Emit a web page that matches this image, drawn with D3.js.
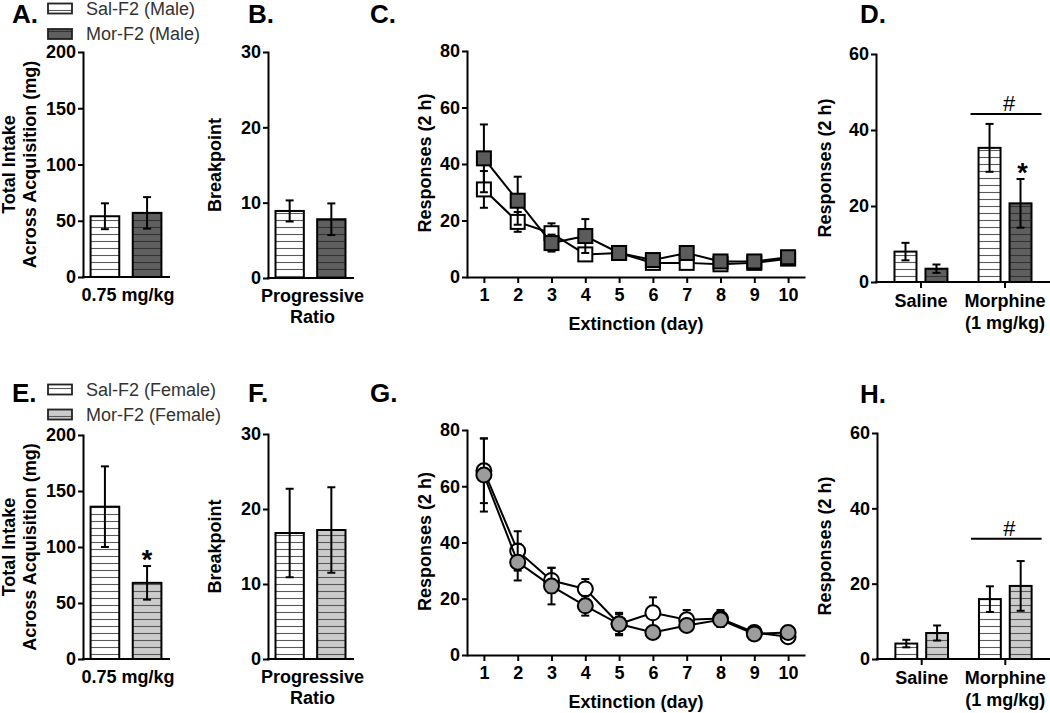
<!DOCTYPE html>
<html><head><meta charset="utf-8">
<script src="https://cdn.jsdelivr.net/npm/d3@7"></script>
<style>body{margin:0;background:#fff}svg{display:block}text{font-family:"Liberation Sans",Arial,sans-serif}</style>
</head><body><svg id="c" width="1050" height="713"></svg>
<script>
// ---------- DATA ----------
const barGroups = ["Sal-F2", "Mor-F2"];
const legendMale = ["Sal-F2 (Male)", "Mor-F2 (Male)"];
const legendFemale = ["Sal-F2 (Female)", "Mor-F2 (Female)"];

const acqTicks = [0, 50, 100, 150, 200];
const acqLabel = ["0.75 mg/kg"];
const acqMale = [54, 57];
const acqMaleErr = [11.5, 14];
const acqFemale = [136, 68];
const acqFemaleErr = [36, 15];

const prTicks = [0, 10, 20, 30];
const prLabel = ["Progressive", "Ratio"];
const prMale = [8.9, 7.8];
const prMaleErr = [1.4, 2.1];
const prFemale = [16.8, 17.2];
const prFemaleErr = [5.9, 5.7];

const days = [1, 2, 3, 4, 5, 6, 7, 8, 9, 10];
const extTicks = [0, 20, 40, 60, 80];
const extSalMale = [31, 19.5, 15.5, 8, 8.5, 5, 5, 4.5, 5, 6.5];
const extSalMaleErr = [6.5, 3.5, 3.5, 1.5, 1, 1, 1, 1, 1, 1];
const extMorMale = [42, 27, 12, 14.5, 8.5, 6, 8.5, 5.5, 5.5, 7];
const extMorMaleErr = [12, 8.5, 3, 6, 2, 1.5, 1.5, 1.5, 1, 1.5];
const extSalFemale = [65.5, 37, 26.5, 23.5, 11, 15, 12.5, 13, 8, 6.5];
const extSalFemaleErr = [11.5, 7, 4.5, 3.5, 3.5, 5.5, 3.5, 3, 1.5, 1.5];
const extMorFemale = [64, 33, 24.5, 17.5, 11, 8, 10.5, 12.5, 7.5, 8];
const extMorFemaleErr = [13, 6.5, 6.5, 3.5, 4, 1.5, 1.5, 2.5, 1, 2];

const reinstCats = ["Saline", "Morphine"];
const reinstLabels = [["Saline"], ["Morphine", "(1 mg/kg)"]];
const reinstTicks = [0, 20, 40, 60];
const reinstSalMale = [8, 35.3];
const reinstSalMaleErr = [2.3, 6.3];
const reinstMorMale = [3.5, 20.7];
const reinstMorMaleErr = [1.1, 6.4];
const reinstSalFemale = [4.1, 15.9];
const reinstSalFemaleErr = [1, 3.4];
const reinstMorFemale = [6.9, 19.4];
const reinstMorFemaleErr = [2, 6.6];
const reinstHashMale = 44.2;
const reinstHashFemale = 31.9;

// ---------- DRAWING ----------
const svg = d3.select("#c");
const defs = svg.append("defs");
function stripePattern(id, bg, line) {
  const p = defs.append("pattern").attr("id", id).attr("patternUnits", "userSpaceOnUse")
    .attr("width", 8).attr("height", 7);
  p.append("rect").attr("width", 8).attr("height", 7).attr("fill", bg);
  p.append("line").attr("x1", 0).attr("x2", 8).attr("y1", 3.5).attr("y2", 3.5)
    .attr("stroke", line).attr("stroke-width", 1.1);
}
stripePattern("pSal", "#ffffff", "#5a5a5a");
stripePattern("pMorM", "#5f5f5f", "#333333");
stripePattern("pMorF", "#cbcbcb", "#5a5a5a");

const FONT = "18px";

function yAxis(g, y, ticks, x0) {
  const ax = g.append("g").attr("transform", `translate(${x0},0)`)
    .call(d3.axisLeft(y).tickValues(ticks).tickSize(5).tickSizeOuter(0).tickPadding(2));
  ax.select(".domain").attr("stroke", "#000").attr("stroke-width", 2).attr("stroke-linecap", "square");
  ax.selectAll(".tick line").attr("stroke", "#000").attr("stroke-width", 2);
  ax.selectAll(".tick text").attr("fill", "#000").style("font-size", FONT).style("font-weight", "bold")
    .style("font-family", '"Liberation Sans", Arial, sans-serif');
  return ax;
}
function hLine(g, x0, x1, y) {
  g.append("line").attr("x1", x0).attr("x2", x1).attr("y1", y).attr("y2", y)
    .attr("stroke", "#000").attr("stroke-width", 2).attr("stroke-linecap", "square");
}
function yTitle(g, lines, xs, cy) {
  lines.forEach((t, i) => {
    g.append("text").attr("transform", `translate(${xs[i]},${cy}) rotate(-90)`)
      .attr("text-anchor", "middle").style("font-size", FONT).style("font-weight", "bold")
      .attr("fill", "#000").text(t);
  });
}
function letter(g, t, x, y) {
  g.append("text").attr("x", x).attr("y", y).style("font-size", "26px").style("font-weight", "bold")
    .attr("fill", "#000").text(t);
}
function multiLabel(g, lines, cx, y0, lh) {
  lines.forEach((t, i) => {
    g.append("text").attr("x", cx).attr("y", y0 + i * lh).attr("text-anchor", "middle")
      .style("font-size", FONT).style("font-weight", "bold").attr("fill", "#000").text(t);
  });
}
function errBar(g, cx, yTop, yBot, cap) {
  g.append("line").attr("x1", cx).attr("x2", cx).attr("y1", yTop).attr("y2", yBot)
    .attr("stroke", "#000").attr("stroke-width", 2);
  [yTop, yBot].forEach(yy => g.append("line").attr("x1", cx - cap).attr("x2", cx + cap)
    .attr("y1", yy).attr("y2", yy).attr("stroke", "#000").attr("stroke-width", 2));
}
function star(g, cx, y) {
  g.append("text").attr("x", cx).attr("y", y).attr("text-anchor", "middle")
    .style("font-size", "27px").style("font-weight", "bold").attr("fill", "#000").text("*");
}

function barPanel(o) {
  const g = svg.append("g");
  const y = d3.scaleLinear().domain([0, o.ticks[o.ticks.length - 1]]).range([o.yBase, o.yTop]);
  const x = d3.scaleBand().domain(barGroups).range([o.x0, o.x1]).paddingInner(0.32).paddingOuter(0.18);
  barGroups.forEach((k, i) => {
    g.append("rect").attr("x", x(k)).attr("y", y(o.vals[i])).attr("width", x.bandwidth())
      .attr("height", y(0) - y(o.vals[i])).attr("fill", `url(#${o.fills[i]})`)
      .attr("stroke", "#000").attr("stroke-width", 2);
  });
  barGroups.forEach((k, i) => {
    errBar(g, x(k) + x.bandwidth() / 2, y(o.vals[i] + o.errs[i]), y(o.vals[i] - o.errs[i]), 4);
  });
  yAxis(g, y, o.ticks, o.x0);
  hLine(g, o.x0, o.x1, o.yBase);
  multiLabel(g, o.xlabel, (o.x0 + o.x1) / 2 + 2, o.yBase + 24, 21);
  yTitle(g, o.ytitle, o.ytitleX, (o.yTop + o.yBase) / 2);
  letter(g, o.letter, o.letterX, o.letterY);
  if (o.star != null) {
    const k = barGroups[o.star];
    star(g, x(k) + x.bandwidth() / 2, y(o.vals[o.star] + o.errs[o.star]) + 3);
  }
  return g;
}

function groupedPanel(o) {
  const g = svg.append("g");
  const y = d3.scaleLinear().domain([0, o.ticks[o.ticks.length - 1]]).range([o.yBase, o.yTop]);
  const x = d3.scaleBand().domain(reinstCats).range([o.x0, o.x1]).paddingInner(0.37).paddingOuter(0.22);
  const xi = d3.scaleBand().domain(barGroups).range([0, x.bandwidth()]).paddingInner(0.29).paddingOuter(0);
  reinstCats.forEach((c, ci) => {
    barGroups.forEach((k, ki) => {
      const v = o.series[ki][ci];
      g.append("rect").attr("x", x(c) + xi(k)).attr("y", y(v)).attr("width", xi.bandwidth())
        .attr("height", y(0) - y(v)).attr("fill", `url(#${o.fills[ki]})`)
        .attr("stroke", "#000").attr("stroke-width", 2);
    });
  });
  reinstCats.forEach((c, ci) => {
    barGroups.forEach((k, ki) => {
      const v = o.series[ki][ci], e = o.errs[ki][ci];
      errBar(g, x(c) + xi(k) + xi.bandwidth() / 2, y(v + e), y(v - e), 4);
    });
  });
  yAxis(g, y, o.ticks, o.x0);
  hLine(g, o.x0, o.x1, o.yBase);
  reinstCats.forEach((c, ci) => {
    const cx = x(c) + x.bandwidth() / 2;
    g.append("line").attr("x1", cx).attr("x2", cx).attr("y1", o.yBase).attr("y2", o.yBase + 6)
      .attr("stroke", "#000").attr("stroke-width", 2);
    multiLabel(g, reinstLabels[ci], cx, o.yBase + 25, 22);
  });
  // significance bar over Morphine group
  const m = reinstCats[1];
  const hy = y(o.hash);
  g.append("line").attr("x1", x(m) - 8).attr("x2", x(m) + x.bandwidth() + 10)
    .attr("y1", hy).attr("y2", hy).attr("stroke", "#000").attr("stroke-width", 2);
  g.append("text").attr("x", x(m) + x.bandwidth() / 2 + 4).attr("y", hy - 3).attr("text-anchor", "middle")
    .style("font-size", "22px").attr("fill", "#000").text("#");
  if (o.star != null) {
    const v = o.series[1][1], e = o.errs[1][1];
    star(g, x(m) + xi(barGroups[1]) + xi.bandwidth() / 2 + 2, y(v + e) + 3);
  }
  yTitle(g, ["Responses (2 h)"], [831], (o.yTop + o.yBase) / 2);
  letter(g, o.letter, 860, o.letterY);
}

function linePanel(o) {
  const g = svg.append("g");
  const y = d3.scaleLinear().domain([0, 80]).range([o.yBase, o.yTop]);
  const x = d3.scaleLinear().domain([0.5, 10.5]).range([467, 805]);
  const ax = g.append("g").attr("transform", `translate(0,${o.yBase})`)
    .call(d3.axisBottom(x).tickValues(days).tickSize(6).tickSizeOuter(0).tickPadding(5));
  ax.select(".domain").attr("stroke", "#000").attr("stroke-width", 2);
  ax.selectAll(".tick line").attr("stroke", "#000").attr("stroke-width", 2);
  ax.selectAll(".tick text").attr("fill", "#000").style("font-size", FONT).style("font-weight", "bold")
    .style("font-family", '"Liberation Sans", Arial, sans-serif');
  yAxis(g, y, extTicks, 467);
  const line = d3.line().x((d, i) => x(days[i])).y(d => y(d));
  o.series.forEach(s => {
    s.vals.forEach((v, i) => errBar(g, x(days[i]), y(v + s.errs[i]), y(v - s.errs[i]), 4));
    g.append("path").datum(s.vals).attr("d", line).attr("fill", "none")
      .attr("stroke", "#000").attr("stroke-width", 2);
    s.vals.forEach((v, i) => {
      if (s.shape === "square") {
        g.append("rect").attr("x", x(days[i]) - 7).attr("y", y(v) - 7).attr("width", 14).attr("height", 14)
          .attr("fill", s.fill).attr("stroke", "#000").attr("stroke-width", 2);
      } else {
        g.append("circle").attr("cx", x(days[i])).attr("cy", y(v)).attr("r", 7.5)
          .attr("fill", s.fill).attr("stroke", "#000").attr("stroke-width", 2);
      }
    });
  });
  g.append("text").attr("x", 636).attr("y", o.yBase + 53).attr("text-anchor", "middle")
    .style("font-size", FONT).style("font-weight", "bold").attr("fill", "#000").text("Extinction (day)");
  yTitle(g, ["Responses (2 h)"], [431], (o.yTop + o.yBase) / 2 - 1);
  letter(g, o.letter, 370, o.letterY);
}

function legend(labels, fills, yc) {
  const g = svg.append("g");
  labels.forEach((t, i) => {
    g.append("rect").attr("x", 48).attr("y", yc[i] - 5).attr("width", 24).attr("height", 10)
      .attr("fill", `url(#${fills[i]})`).attr("stroke", "#222").attr("stroke-width", 1.8);
    g.append("text").attr("x", 86).attr("y", yc[i] + 6).style("font-size", "18px")
      .attr("fill", "#333").text(t);
  });
}

// Panel A
barPanel({x0: 83, x1: 169, yTop: 52, yBase: 277, ticks: acqTicks, vals: acqMale, errs: acqMaleErr,
  fills: ["pSal", "pMorM"], xlabel: acqLabel, ytitle: ["Total Intake", "Across  Acquisition (mg)"],
  ytitleX: [15, 36], letter: "A.", letterX: 12, letterY: 23});
legend(legendMale, ["pSal", "pMorM"], [8.5, 34]);
// Panel B
barPanel({x0: 268, x1: 353, yTop: 52, yBase: 278, ticks: prTicks, vals: prMale, errs: prMaleErr,
  fills: ["pSal", "pMorM"], xlabel: prLabel, ytitle: ["Breakpoint"], ytitleX: [221],
  letter: "B.", letterX: 248, letterY: 23});
// Panel C
linePanel({yTop: 51, yBase: 277, letter: "C.", letterY: 23, series: [
  {vals: extSalMale, errs: extSalMaleErr, shape: "square", fill: "#ffffff"},
  {vals: extMorMale, errs: extMorMaleErr, shape: "square", fill: "#5b5b5b"}]});
// Panel D
groupedPanel({x0: 876, x1: 1050, yTop: 54, yBase: 282, ticks: reinstTicks,
  series: [reinstSalMale, reinstMorMale], errs: [reinstSalMaleErr, reinstMorMaleErr],
  fills: ["pSal", "pMorM"], hash: reinstHashMale, star: true, letter: "D.", letterY: 23});

// Panel E
barPanel({x0: 83, x1: 169, yTop: 435, yBase: 659, ticks: acqTicks, vals: acqFemale, errs: acqFemaleErr,
  fills: ["pSal", "pMorF"], xlabel: acqLabel, ytitle: ["Total Intake", "Across  Acquisition (mg)"],
  ytitleX: [15, 36], letter: "E.", letterX: 12, letterY: 402, star: 1});
legend(legendFemale, ["pSal", "pMorF"], [389.5, 414.5]);
// Panel F
barPanel({x0: 268, x1: 353, yTop: 434, yBase: 659, ticks: prTicks, vals: prFemale, errs: prFemaleErr,
  fills: ["pSal", "pMorF"], xlabel: prLabel, ytitle: ["Breakpoint"], ytitleX: [221],
  letter: "F.", letterX: 248, letterY: 402});
// Panel G
linePanel({yTop: 430, yBase: 655, letter: "G.", letterY: 402, series: [
  {vals: extSalFemale, errs: extSalFemaleErr, shape: "circle", fill: "#ffffff"},
  {vals: extMorFemale, errs: extMorFemaleErr, shape: "circle", fill: "#9c9c9c"}]});
// Panel H
groupedPanel({x0: 877, x1: 1050, yTop: 433, yBase: 659, ticks: reinstTicks,
  series: [reinstSalFemale, reinstMorFemale], errs: [reinstSalFemaleErr, reinstMorFemaleErr],
  fills: ["pSal", "pMorF"], hash: reinstHashFemale, star: null, letter: "H.", letterY: 403});
</script>
</body></html>
